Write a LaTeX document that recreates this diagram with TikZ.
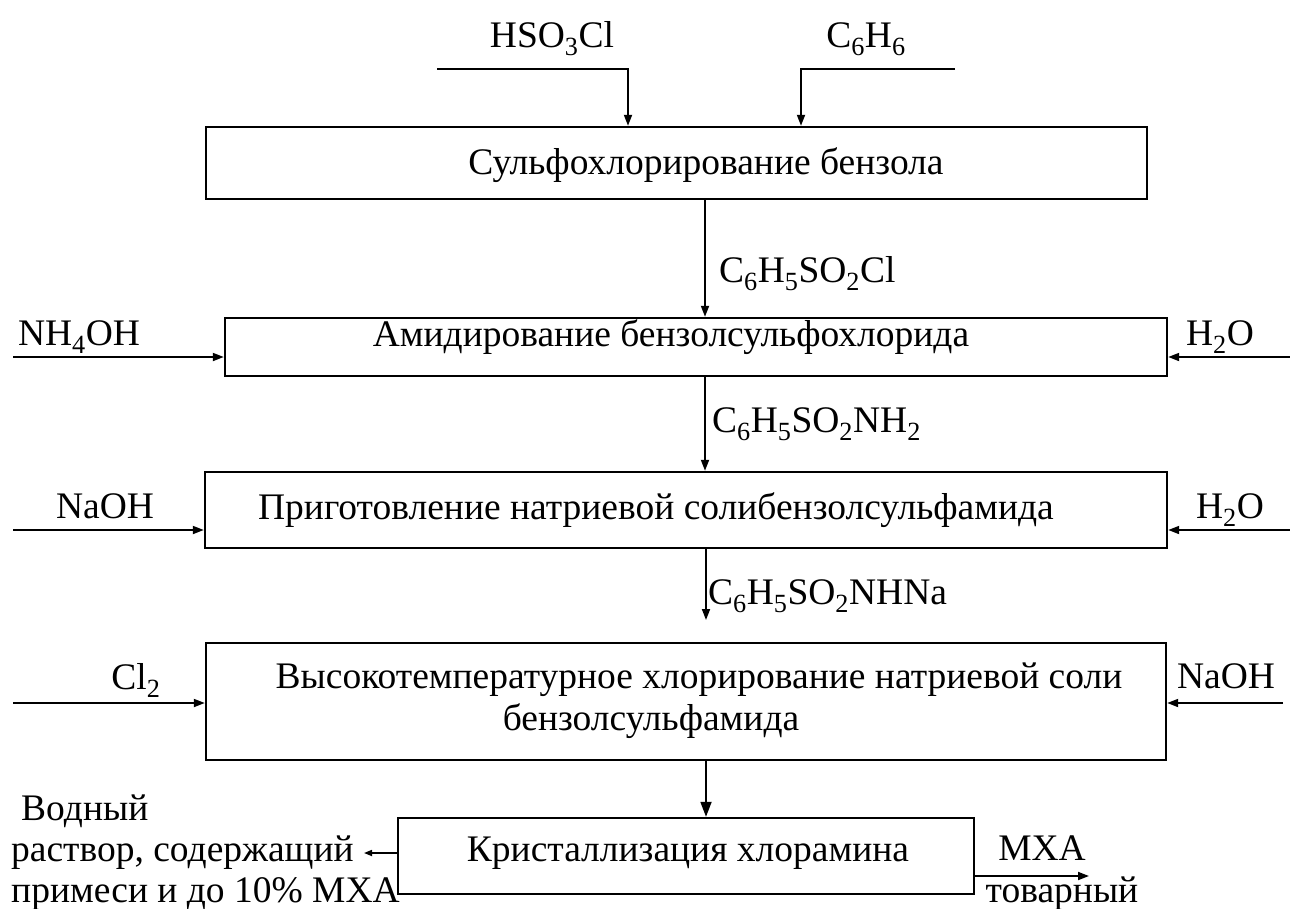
\documentclass[tikz,border=0pt]{standalone}
\usepackage{fontspec}
\setmainfont{Liberation Serif}
\usetikzlibrary{arrows.meta}

\begin{document}
\begin{tikzpicture}[x=1pt, y=-1pt,
    stage/.style={draw, line width=2.4pt, inner sep=0pt},
    flow/.style={line width=1.8pt, -{Triangle[length=11pt, width=8pt]}},
    lbl/.style={anchor=base, inner sep=0pt, font=\fontsize{37.5}{42}\selectfont},
  ]
\useasboundingbox (0,0) rectangle (1290,908);

% stages
\node[stage, minimum width=941pt, minimum height=72pt] (sulf) at (676.5,163) {};
\node[stage, minimum width=942pt, minimum height=58pt] (amid) at (696,347) {};
\node[stage, minimum width=962pt, minimum height=76pt] (prig) at (686,510) {};
\node[stage, minimum width=960pt, minimum height=117pt] (hlor) at (686,701.5) {};
\node[stage, minimum width=576pt, minimum height=76pt] (kris) at (686,856) {};

\node[lbl] (sulft) at (706,174) {Сульфохлорирование бензола};
\node[lbl] (amidt) at (671,346) {Амидирование бензолсульфохлорида};
\node[lbl] (prigt) at (656,519) {Приготовление натриевой солибензолсульфамида};
\node[lbl] (hlort) at (699,688) {Высокотемпературное хлорирование натриевой соли};
\node[lbl] (hlorb) at (651,730) {бензолсульфамида};
\node[lbl] (krist) at (688,861) {Кристаллизация хлорамина};

% top feeds
\coordinate (hso1) at (437,69);
\coordinate (hso2) at (628,69);
\coordinate (ben1) at (955,69);
\coordinate (ben2) at (801,69);
\draw[flow] (hso1) -- (hso2) -- (hso2 |- sulf.north);
\draw[flow] (ben1) -- (ben2) -- (ben2 |- sulf.north);
\node[lbl] (hsol) at (552,47) {HSO\textsubscript{3}Cl};
\node[lbl] (benl) at (866,47) {C\textsubscript{6}H\textsubscript{6}};

% main line
\coordinate (ax) at (705,0);
\coordinate (gap) at (706,620);
\draw[flow] (ax |- sulf.south) -- (ax |- amid.north);
\draw[flow] (ax |- amid.south) -- (ax |- prig.north);
\draw[flow] (gap |- prig.south) -- (gap);
\draw[line width=1.8pt, -{Triangle[length=15pt, width=11pt]}] (gap |- hlor.south) -- (gap |- kris.north);
\node[lbl, anchor=base west] (p1) at (719,282) {C\textsubscript{6}H\textsubscript{5}SO\textsubscript{2}Cl};
\node[lbl, anchor=base west] (p2) at (712,432) {C\textsubscript{6}H\textsubscript{5}SO\textsubscript{2}NH\textsubscript{2}};
\node[lbl, anchor=base west] (p3) at (708,604) {C\textsubscript{6}H\textsubscript{5}SO\textsubscript{2}NHNa};

% side feeds
\coordinate (l1) at (13,357);
\coordinate (l2) at (13,530);
\coordinate (l3) at (13,703);
\coordinate (r1) at (1290,357);
\coordinate (r2) at (1290,530);
\coordinate (r3) at (1283,703);
\draw[flow] (l1) -- (l1 -| amid.west);
\draw[flow] (l2) -- (l2 -| prig.west);
\draw[flow] (l3) -- (l3 -| hlor.west);
\draw[flow] (r1) -- (r1 -| amid.east);
\draw[flow] (r2) -- (r2 -| prig.east);
\draw[flow] (r3) -- (r3 -| hlor.east);
\node[lbl] (nh4) at (79,345) {NH\textsubscript{4}OH};
\node[lbl] (naoh1) at (105,518) {NaOH};
\node[lbl] (cl2) at (136,689) {Cl\textsubscript{2}};
\node[lbl] (h2o1) at (1220,345) {H\textsubscript{2}O};
\node[lbl] (h2o2) at (1230,518) {H\textsubscript{2}O};
\node[lbl] (naoh2) at (1226,688) {NaOH};

% outputs
\coordinate (out1) at (364,853);
\coordinate (out2) at (1089,876);
\draw[line width=1.6pt, -{Triangle[length=8pt, width=6pt]}] (out1 -| kris.west) -- (out1);
\draw[flow] (out2 -| kris.east) -- (out2);
\node[lbl, anchor=base west] (w1) at (21,820) {Водный};
\node[lbl, anchor=base west] (w2) at (11,861) {раствор, содержащий};
\node[lbl, anchor=base west] (w3) at (11,902) {примеси и до 10\% МХА};
\node[lbl] (mxa) at (1042,860) {МХА};
\node[lbl] (tov) at (1062,902) {товарный};
\end{tikzpicture}
\end{document}
